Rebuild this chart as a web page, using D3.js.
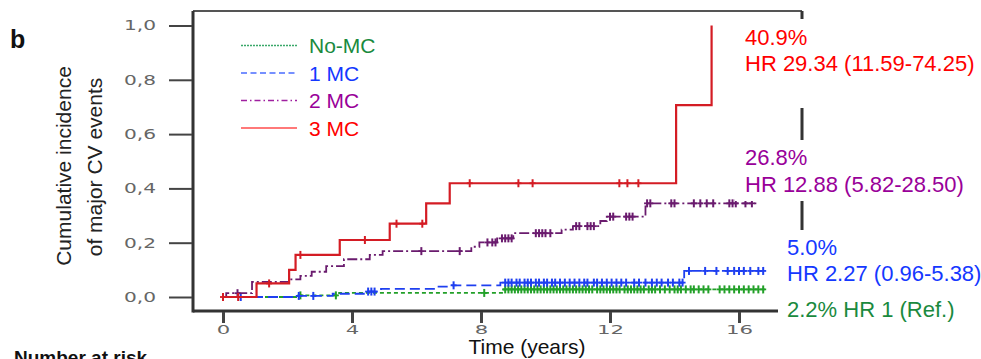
<!DOCTYPE html>
<html>
<head>
<meta charset="utf-8">
<script src="https://cdn.jsdelivr.net/npm/d3@7"></script>
<style>
  body { margin: 0; background: #fff; }
  svg { display: block; font-family: "Liberation Sans", Arial, sans-serif; }
</style>
</head>
<body>
<div class="chart"></div>
<script>
// --- data (time in years, cumulative incidence) ---
const xTicks = [0, 4, 8, 12, 16];
const yTicks = [0, 0.2, 0.4, 0.6, 0.8, 1.0];

const groupNames = ["No-MC", "1 MC", "2 MC", "3 MC"];

const noMcTimes = [0, 2.3, 3.6, 8.7];
const noMcCum = [0, 0.006, 0.015, 0.028];
const noMcEnd = 16.8;
const noMcCensor = [2.4, 3.5, 8.1, 8.75, 8.85, 8.95, 9.05, 9.15, 9.25, 9.35, 9.45, 9.55, 9.65, 9.75, 9.85, 9.95,
  10.05, 10.15, 10.25, 10.35, 10.45, 10.55, 10.65, 10.75, 10.85, 10.95, 11.05, 11.15, 11.25, 11.35, 11.45,
  11.6, 11.7, 11.8, 11.9, 12.0, 12.1, 12.2, 12.3, 12.45, 12.55, 12.65, 12.75, 12.85, 12.95, 13.05, 13.2,
  13.3, 13.4, 13.55, 13.7, 13.85, 14.0, 14.1, 14.2, 14.35, 14.5, 14.6, 14.75, 14.9, 15.05, 15.4, 15.55,
  15.7, 15.85, 16.0, 16.15, 16.3, 16.45, 16.6, 16.75];

const oneMcTimes = [0, 2.2, 3.4, 4.4, 4.9, 6.6, 7.1, 8.6, 14.3];
const oneMcCum = [0, 0.004, 0.012, 0.02, 0.03, 0.038, 0.043, 0.053, 0.096];
const oneMcEnd = 16.85;
const oneMcCensor = [0.55, 2.35, 2.8, 4.5, 4.6, 4.7, 7.15, 8.75, 8.85, 8.95, 9.1, 9.2, 9.35, 9.45, 9.55, 9.7,
  9.8, 9.95, 10.05, 10.2, 10.3, 10.45, 10.6, 10.75, 10.9, 11.05, 11.2, 11.3, 11.5, 11.6, 11.75, 11.9, 12.05,
  12.2, 12.35, 12.5, 12.75, 12.9, 13.1, 13.3, 13.45, 13.6, 13.8, 13.95, 14.15, 14.25, 14.45, 14.95, 15.3,
  15.65, 15.85, 16.0, 16.15, 16.35, 16.6, 16.75];

const twoMcTimes = [0, 0.1, 0.9, 2.05, 2.4, 2.75, 3.2, 3.75, 4.55, 4.95, 7.7, 7.95, 8.5, 9.0, 10.5, 10.85, 11.7, 11.9, 13.1];
const twoMcCum = [0, 0.014, 0.056, 0.065, 0.078, 0.093, 0.114, 0.139, 0.155, 0.169, 0.185, 0.201, 0.216, 0.235, 0.248, 0.261, 0.28, 0.296, 0.345];
const twoMcEnd = 16.6;
const twoMcCensor = [0.45, 6.15, 7.34, 8.2, 8.35, 8.45, 8.65, 8.75, 8.85, 8.95, 9.7, 9.8, 9.9, 10.0, 10.15,
  10.95, 11.05, 11.3, 11.4, 11.5, 12.0, 12.1, 12.5, 12.6, 12.7, 13.15, 13.25, 13.9, 14.0, 14.6, 14.8, 15.0,
  15.2, 15.7, 15.8, 15.9, 16.2, 16.4];

const threeMcTimes = [0, 1.04, 2.05, 2.25, 3.62, 5.17, 6.3, 7.03, 14.05, 15.15];
const threeMcCum = [0, 0.05, 0.10, 0.155, 0.21, 0.27, 0.345, 0.419, 0.707, 1.0];
const threeMcEnd = 15.15;
const threeMcCensor = [0.0, 0.47, 1.43, 2.4, 4.4, 5.38, 6.18, 7.65, 9.16, 9.6, 12.29, 12.54, 12.88];

const annotPct = ["2.2%", "5.0%", "26.8%", "40.9%"];
const annotHR = ["HR 1 (Ref.)", "HR 2.27 (0.96-5.38)", "HR 12.88 (5.82-28.50)", "HR 29.34 (11.59-74.25)"];

// --- styling ---
const lineColors = ["#22a028", "#1e3ff0", "#6a1b6e", "#d41c24"];
const textColors = ["#1a8a3e", "#1438ff", "#990099", "#ff0000"];
const legendColors = ["#3aa86a", "#4a6cff", "#a020a0", "#ff4d4d"];
const plotDash = ["4,3", "10,5", "10,3,2,3", null];
const legendDash = ["2,1", "6,3.5", "6,3,1.5,3", null];

const width = 981, height = 359;
const frame = {left: 193, top: 11, right: 802, bottom: 311};

const svg = d3.select(".chart").append("svg")
  .attr("width", width)
  .attr("height", height);

svg.append("rect").attr("width", width).attr("height", height).attr("fill", "#fff");

const x = d3.scaleLinear().domain([0, 16]).range([223, 739]);
const y = d3.scaleLinear().domain([0, 1]).range([297, 25.5]);

// frame
const frameG = svg.append("g");
frameG.append("line").attr("x1", frame.left).attr("x2", frame.right).attr("y1", frame.top).attr("y2", frame.top)
  .attr("stroke", "#555").attr("stroke-width", 2);
frameG.append("line").attr("x1", frame.right).attr("x2", frame.right).attr("y1", frame.top).attr("y2", frame.bottom)
  .attr("stroke", "#333").attr("stroke-width", 3);
frameG.append("line").attr("x1", frame.left).attr("x2", frame.right).attr("y1", frame.bottom).attr("y2", frame.bottom)
  .attr("stroke", "#333").attr("stroke-width", 3);
frameG.append("line").attr("x1", frame.left).attr("x2", frame.left).attr("y1", frame.top).attr("y2", frame.bottom + 1.5)
  .attr("stroke", "#333").attr("stroke-width", 3);

// axes
const yAxis = d3.axisLeft(y)
  .tickValues(yTicks)
  .tickSize(23)
  .tickPadding(13)
  .tickFormat(d => d3.format(".1f")(d).replace(".", ","));
const gY = svg.append("g").attr("transform", `translate(${frame.left - 1},0)`).call(yAxis);
gY.select(".domain").remove();
gY.selectAll(".tick line").attr("stroke", "#444").attr("stroke-width", 2);
gY.selectAll(".tick text")
  .attr("fill", "#666")
  .attr("font-family", "DejaVu Sans, sans-serif")
  .attr("font-size", 14)
  .attr("textLength", 32)
  .attr("lengthAdjust", "spacingAndGlyphs");

const xAxis = d3.axisBottom(x)
  .tickValues(xTicks)
  .tickSize(11)
  .tickPadding(2);
const gX = svg.append("g").attr("transform", `translate(0,${frame.bottom + 1})`).call(xAxis);
gX.select(".domain").remove();
gX.selectAll(".tick line").attr("stroke", "#444").attr("stroke-width", 3);
gX.selectAll(".tick text")
  .attr("fill", "#666")
  .attr("font-family", "DejaVu Sans, sans-serif")
  .attr("font-size", 13)
  .attr("textLength", d => String(d).length * 13.5)
  .attr("lengthAdjust", "spacingAndGlyphs");

// curves
const series = [
  {times: noMcTimes, cum: noMcCum, end: noMcEnd, censor: noMcCensor},
  {times: oneMcTimes, cum: oneMcCum, end: oneMcEnd, censor: oneMcCensor},
  {times: twoMcTimes, cum: twoMcCum, end: twoMcEnd, censor: twoMcCensor},
  {times: threeMcTimes, cum: threeMcCum, end: threeMcEnd, censor: threeMcCensor}
];

const stepLine = d3.line()
  .x(d => x(d[0]))
  .y(d => y(d[1]))
  .curve(d3.curveStepAfter);

function valueAt(s, t) {
  const i = Math.max(0, d3.bisectRight(s.times, t) - 1);
  return s.cum[i];
}

const curves = svg.append("g");
series.forEach((s, i) => {
  const pts = s.times.map((t, j) => [t, s.cum[j]]);
  pts.push([s.end, s.cum[s.cum.length - 1]]);
  const g = curves.append("g");
  g.append("path")
    .attr("d", stepLine(pts))
    .attr("fill", "none")
    .attr("stroke", lineColors[i])
    .attr("stroke-width", i === 3 ? 2.2 : 1.8)
    .attr("stroke-dasharray", plotDash[i]);
  g.selectAll("line.censor")
    .data(s.censor)
    .join("line")
    .attr("class", "censor")
    .attr("x1", t => x(t)).attr("x2", t => x(t))
    .attr("y1", t => y(valueAt(s, t)) - 4)
    .attr("y2", t => y(valueAt(s, t)) + 4)
    .attr("stroke", lineColors[i])
    .attr("stroke-width", 2);
  g.selectAll("line.hbar")
    .data(s.censor)
    .join("line")
    .attr("class", "hbar")
    .attr("x1", t => x(t) - 3).attr("x2", t => x(t) + 3)
    .attr("y1", t => y(valueAt(s, t)))
    .attr("y2", t => y(valueAt(s, t)))
    .attr("stroke", lineColors[i])
    .attr("stroke-width", 1.8);
});

// legend
const legend = svg.append("g");
groupNames.forEach((name, i) => {
  const ly = 45.5 + i * 27.5;
  legend.append("line")
    .attr("x1", 241).attr("x2", 297)
    .attr("y1", ly).attr("y2", ly)
    .attr("stroke", legendColors[i])
    .attr("stroke-width", i === 3 ? 1.6 : 1.3)
    .attr("stroke-dasharray", legendDash[i]);
  legend.append("text")
    .attr("x", 309).attr("y", ly + 7.5)
    .attr("font-size", 21)
    .attr("fill", textColors[i])
    .text(name);
});

// annotation boxes (cover the right frame)
const annot = svg.append("g");
annot.append("rect").attr("x", 735).attr("y", 19).attr("width", 246).attr("height", 89).attr("fill", "#fff");
annot.append("rect").attr("x", 735).attr("y", 140).attr("width", 246).attr("height", 61).attr("fill", "#fff");
annot.append("rect").attr("x", 778).attr("y", 230).attr("width", 203).attr("height", 100).attr("fill", "#fff");

const annotFont = 22;
annot.append("text").attr("x", 745).attr("y", 45).attr("font-size", annotFont).attr("fill", textColors[3]).text(annotPct[3]);
annot.append("text").attr("x", 745).attr("y", 71).attr("font-size", annotFont).attr("fill", textColors[3]).text(annotHR[3]);
annot.append("text").attr("x", 745).attr("y", 165).attr("font-size", annotFont).attr("fill", textColors[2]).text(annotPct[2]);
annot.append("text").attr("x", 745).attr("y", 192).attr("font-size", annotFont).attr("fill", textColors[2]).text(annotHR[2]);
annot.append("text").attr("x", 787).attr("y", 255).attr("font-size", annotFont).attr("fill", textColors[1]).text(annotPct[1]);
annot.append("text").attr("x", 787).attr("y", 281).attr("font-size", annotFont).attr("fill", textColors[1]).text(annotHR[1]);
annot.append("text").attr("x", 787).attr("y", 317).attr("font-size", annotFont).attr("fill", textColors[0])
  .text(annotPct[0] + " " + annotHR[0]);

// titles
svg.append("text").attr("x", 10).attr("y", 48)
  .attr("font-size", 25).attr("font-weight", "bold").attr("fill", "#111").text("b");

svg.append("text")
  .attr("transform", "translate(71,166) rotate(-90)")
  .attr("text-anchor", "middle").attr("font-size", 21).attr("fill", "#222")
  .text("Cumulative incidence");
svg.append("text")
  .attr("transform", "translate(102,167) rotate(-90)")
  .attr("text-anchor", "middle").attr("font-size", 21).attr("fill", "#222")
  .text("of major CV events");

svg.append("text").attr("x", 527).attr("y", 354)
  .attr("text-anchor", "middle").attr("font-size", 21).attr("fill", "#111")
  .text("Time (years)");

svg.append("text").attr("x", 14).attr("y", 364)
  .attr("font-size", 19).attr("font-weight", "bold").attr("fill", "#111")
  .text("Number at risk");
</script>
</body>
</html>
